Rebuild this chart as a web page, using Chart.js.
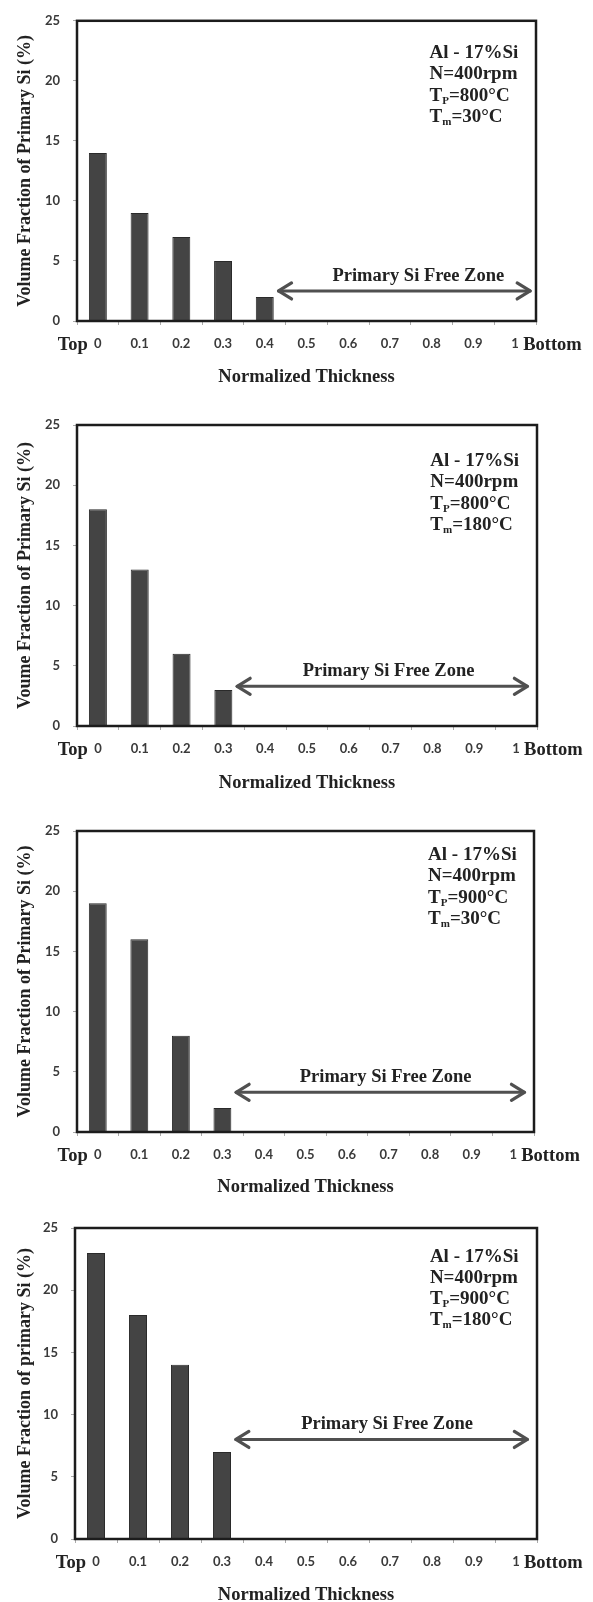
<!DOCTYPE html>
<html>
<head>
<meta charset="utf-8">
<script src="https://cdn.jsdelivr.net/npm/chart.js@4.4.1/dist/chart.umd.min.js"></script>
<style>
html, body { margin: 0; padding: 0; background: #fff; overflow: hidden; }
body { width: 593px; height: 1602px; position: relative; }
canvas { position: absolute; left: 0; }
</style>
</head>
<body>
<canvas id="panel-0"></canvas>
<canvas id="panel-1"></canvas>
<canvas id="panel-2"></canvas>
<canvas id="panel-3"></canvas>
<script>
// normalized thickness categories (top -> bottom)
const thickness = ['0', '0.1', '0.2', '0.3', '0.4', '0.5', '0.6', '0.7', '0.8', '0.9', '1'];

// volume fraction of primary Si (%) per panel
const fracTp800Tm30 = [14, 9, 7, 5, 2];
const fracTp800Tm180 = [18, 13, 6, 3];
const fracTp900Tm30 = [19, 16, 8, 2];
const fracTp900Tm180 = [23, 18, 14, 7];

const yTitles = [
    'Volume Fraction of Primary Si (%)',
    'Voume Fraction of Primary Si (%)',
    'Volume Fraction of Primary Si (%)',
    'Volume Fraction of primary Si (%)'
];
const pourTemps = ['800', '800', '900', '900'];
const mouldTemps = ['30', '180', '30', '180'];

// "Primary Si Free Zone" arrow, in category index / value units
const zoneFrom = [4.33, 3.33, 3.33, 3.33];
const zoneTo = [10.36, 10.27, 10.27, 10.27];
const zoneLevel = [2.5, 3.3, 3.3, 8];
const zoneLabelAt = [7.68, 6.95, 6.93, 6.93];

// where the condition block starts (category index / value)
const noteAt = 7.95;
const noteLevel = [22.3, 22.0, 23.0, 22.7];

// page layout for each panel (pixels)
const PANELS = [
    { top: 0, height: 400, plotTop: 15, plotBottom: 321, plotLeft: 77, plotRight: 536, titleY: 377 },
    { top: 400, height: 400, plotTop: 425, plotBottom: 726, plotLeft: 77, plotRight: 537, titleY: 783 },
    { top: 800, height: 400, plotTop: 831, plotBottom: 1132, plotLeft: 77, plotRight: 534, titleY: 1187 },
    { top: 1200, height: 420, plotTop: 1228, plotBottom: 1539, plotLeft: 75, plotRight: 537, titleY: 1595 }
];

const SERIF = '"Liberation Serif", "Times New Roman", serif';
const INK = '#222';

Chart.defaults.font.family = 'Lato, "Open Sans", sans-serif';

function drawSubLine(ctx, x, y, main, sub, rest) {
    ctx.font = `bold 19px ${SERIF}`;
    ctx.fillText(main, x, y);
    x += ctx.measureText(main).width;
    ctx.font = `bold 11px ${SERIF}`;
    ctx.fillText(sub, x, y + 5);
    x += ctx.measureText(sub).width;
    ctx.font = `bold 19px ${SERIF}`;
    ctx.fillText(rest, x, y);
}

function drawArrowHead(ctx, x, y, dir) {
    ctx.beginPath();
    ctx.moveTo(x - dir * 13, y - 8);
    ctx.lineTo(x, y);
    ctx.lineTo(x - dir * 13, y + 8);
    ctx.stroke();
}

const panelDecor = {
    id: 'panelDecor',
    afterDatasetsDraw(chart, args, opts) {
        const { ctx, chartArea: a, scales: { x, y } } = chart;
        ctx.save();

        // box round the plot
        ctx.strokeStyle = '#1c1c1c';
        ctx.lineWidth = 2.5;
        ctx.strokeRect(a.left, a.top, a.right - a.left, a.bottom - a.top);

        // Top / Bottom beside the end tick labels
        ctx.fillStyle = INK;
        ctx.textBaseline = 'middle';
        ctx.font = `bold 18.5px ${SERIF}`;
        const ly = a.bottom + 24;
        ctx.textAlign = 'right';
        ctx.fillText('Top', x.getPixelForValue(0) - 10, ly);
        ctx.textAlign = 'left';
        ctx.fillText('Bottom', x.getPixelForValue(thickness.length - 1) + 8, ly);

        // condition block
        const nx = x.getPixelForValue(noteAt);
        const ny = y.getPixelForValue(opts.noteLevel);
        ctx.font = `bold 19px ${SERIF}`;
        ctx.fillText('Al - 17%Si', nx, ny);
        ctx.fillText('N=400rpm', nx, ny + 21.3);
        drawSubLine(ctx, nx, ny + 42.6, 'T', 'P', `=${opts.tp}°C`);
        drawSubLine(ctx, nx, ny + 63.9, 'T', 'm', `=${opts.tm}°C`);

        // free zone arrow
        const x1 = x.getPixelForValue(opts.from);
        const x2 = x.getPixelForValue(opts.to);
        const ay = y.getPixelForValue(opts.level);
        ctx.strokeStyle = '#505050';
        ctx.lineWidth = 3.2;
        ctx.lineCap = 'round';
        ctx.lineJoin = 'round';
        ctx.beginPath();
        ctx.moveTo(x1, ay);
        ctx.lineTo(x2, ay);
        ctx.stroke();
        drawArrowHead(ctx, x1, ay, -1);
        drawArrowHead(ctx, x2, ay, 1);

        ctx.textAlign = 'center';
        ctx.font = `bold 18.5px ${SERIF}`;
        ctx.fillText('Primary Si Free Zone', x.getPixelForValue(opts.labelAt), ay - 15);

        ctx.restore();
    }
};

function renderPanel(index, values) {
    const p = PANELS[index];
    const canvas = document.getElementById('panel-' + index);
    canvas.width = 593;
    canvas.height = p.height;
    canvas.style.top = p.top + 'px';

    const plotTop = p.plotTop - p.top;
    const plotBottom = p.plotBottom - p.top;
    const titleSize = 18.5;

    return new Chart(canvas, {
        type: 'bar',
        data: {
            labels: thickness,
            datasets: [{
                data: values,
                backgroundColor: '#444',
                borderColor: '#2a2a2a',
                borderWidth: 1,
                barPercentage: 0.43,
                categoryPercentage: 1
            }]
        },
        options: {
            responsive: false,
            animation: false,
            layout: {
                padding: { top: plotTop, right: 593 - p.plotRight, bottom: 0, left: 0 }
            },
            scales: {
                x: {
                    afterFit: scale => { scale.height = p.height - plotBottom; },
                    grid: { drawOnChartArea: false, drawTicks: true, tickLength: 4, color: '#aaa', offset: true },
                    border: { display: false },
                    ticks: {
                        color: '#3a3a3a',
                        padding: 11,
                        maxRotation: 0,
                        autoSkip: false,
                        font: { size: 13, weight: 'bold' }
                    },
                    title: {
                        display: true,
                        text: 'Normalized Thickness',
                        color: INK,
                        font: { family: SERIF, size: titleSize, weight: 'bold' },
                        padding: { top: 0, bottom: p.height - (p.titleY - p.top) - titleSize * 0.6 }
                    }
                },
                y: {
                    min: 0,
                    max: 25,
                    afterFit: scale => { scale.width = p.plotLeft; },
                    grid: { drawOnChartArea: false, drawTicks: true, tickLength: 4, color: '#aaa' },
                    border: { display: false },
                    ticks: {
                        stepSize: 5,
                        color: '#3a3a3a',
                        padding: 13,
                        font: { size: 13, weight: 'bold' }
                    },
                    title: {
                        display: true,
                        text: yTitles[index],
                        color: INK,
                        font: { family: SERIF, size: 18, weight: 'bold' },
                        padding: { top: 15, bottom: 0 }
                    }
                }
            },
            plugins: {
                legend: { display: false },
                tooltip: { enabled: false },
                panelDecor: {
                    tp: pourTemps[index],
                    tm: mouldTemps[index],
                    noteLevel: noteLevel[index],
                    from: zoneFrom[index],
                    to: zoneTo[index],
                    level: zoneLevel[index],
                    labelAt: zoneLabelAt[index]
                }
            }
        },
        plugins: [panelDecor]
    });
}

renderPanel(0, fracTp800Tm30);
renderPanel(1, fracTp800Tm180);
renderPanel(2, fracTp900Tm30);
renderPanel(3, fracTp900Tm180);
</script>
</body>
</html>
